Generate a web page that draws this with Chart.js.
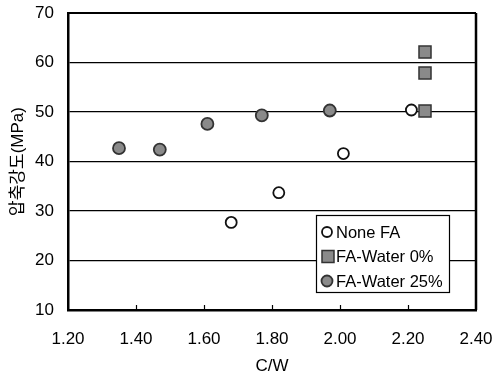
<!DOCTYPE html>
<html>
<head>
<meta charset="utf-8">
<script src="https://cdn.jsdelivr.net/npm/chart.js@4.4.1/dist/chart.umd.min.js"></script>
<style>
  html, body { margin: 0; padding: 0; background: #fff; }
  #wrap { width: 494px; height: 377px; }
</style>
</head>
<body>
<div id="wrap"><canvas id="chart" width="494" height="377"></canvas></div>
<script>
// data
const seriesNames = ['None FA', 'FA-Water 0%', 'FA-Water 25%'];
const cwNone = [1.68, 1.82, 2.01, 2.21];
const strengthNone = [27.7, 33.7, 41.6, 50.4];
const cwWater0 = [2.25, 2.25, 2.25];
const strengthWater0 = [62.1, 57.9, 50.2];
const cwWater25 = [1.35, 1.47, 1.61, 1.77, 1.97];
const strengthWater25 = [42.7, 42.4, 47.6, 49.3, 50.3];
const xTicks = [1.20, 1.40, 1.60, 1.80, 2.00, 2.20, 2.40];
const yTicks = [10, 20, 30, 40, 50, 60, 70];

const toPoints = (xs, ys) => xs.map((x, i) => ({ x: x, y: ys[i] }));
const fontFamily = '"Liberation Sans", Arial, "Noto Sans CJK KR", sans-serif';

// small tick marks inside the bottom border
const innerTicks = {
    id: 'innerTicks',
    afterDraw(chart) {
        const ctx = chart.ctx;
        const xs = chart.scales.x;
        const bottom = chart.chartArea.bottom;
        ctx.save();
        ctx.strokeStyle = '#000';
        ctx.lineWidth = 1.2;
        xTicks.slice(1, -1).forEach(v => {
            const px = Math.round(xs.getPixelForValue(v)) + 0.5;
            ctx.beginPath();
            ctx.moveTo(px, bottom);
            ctx.lineTo(px, bottom - 5);
            ctx.stroke();
        });
        ctx.restore();
    }
};

// legend box drawn inside the plot
const boxLegend = {
    id: 'boxLegend',
    afterDraw(chart) {
        const ctx = chart.ctx;
        const x0 = 316, y0 = 215, w = 133, h = 77;
        ctx.save();
        ctx.fillStyle = '#fff';
        ctx.fillRect(x0, y0, w, h);
        ctx.strokeStyle = '#000';
        ctx.lineWidth = 1.2;
        ctx.strokeRect(x0 + 0.5, y0 + 0.5, w, h);
        ctx.font = '16.5px ' + fontFamily;
        ctx.textBaseline = 'middle';
        chart.data.datasets.forEach((ds, i) => {
            const cy = y0 + 17 + i * 24.5;
            ctx.fillStyle = ds.backgroundColor;
            ctx.strokeStyle = ds.borderColor;
            ctx.lineWidth = ds.borderWidth;
            ctx.beginPath();
            if (ds.pointStyle === 'rect') {
                ctx.rect(x0 + 6, cy - 6, 12, 12);
            } else {
                ctx.arc(x0 + 11, cy, i === 0 ? 5 : 5.5, 0, Math.PI * 2);
            }
            ctx.fill();
            ctx.stroke();
            ctx.fillStyle = '#000';
            ctx.fillText(ds.label, x0 + 20, cy + 1);
        });
        ctx.restore();
    }
};

const ctx = document.getElementById('chart').getContext('2d');
new Chart(ctx, {
    type: 'scatter',
    data: {
        datasets: [
            {
                label: seriesNames[0],
                data: toPoints(cwNone, strengthNone),
                pointStyle: 'circle',
                pointRadius: 5.5,
                backgroundColor: '#fff',
                borderColor: '#111',
                borderWidth: 1.8
            },
            {
                label: seriesNames[1],
                data: toPoints(cwWater0, strengthWater0),
                pointStyle: 'rect',
                pointRadius: 8.5,
                backgroundColor: '#8a8a8a',
                borderColor: '#333',
                borderWidth: 1.5
            },
            {
                label: seriesNames[2],
                data: toPoints(cwWater25, strengthWater25),
                pointStyle: 'circle',
                pointRadius: 6,
                backgroundColor: '#8a8a8a',
                borderColor: '#333',
                borderWidth: 1.8
            }
        ]
    },
    options: {
        responsive: false,
        animation: false,
        layout: { padding: { left: 0, top: 13, right: 18, bottom: 0 } },
        plugins: {
            legend: { display: false },
            tooltip: { enabled: false }
        },
        scales: {
            x: {
                type: 'linear',
                min: 1.2,
                max: 2.4,
                afterBuildTicks: scale => { scale.ticks = xTicks.map(v => ({ value: v })); },
                afterFit: scale => {
                    scale.height = 67;
                    scale.paddingLeft = 0;
                    scale.paddingRight = 0;
                },
                grid: { display: false, drawTicks: false },
                border: { display: true, color: '#000', width: 2.5 },
                ticks: {
                    color: '#000',
                    padding: 19,
                    font: { size: 17, family: fontFamily },
                    callback: v => v.toFixed(2)
                },
                title: {
                    display: true,
                    text: 'C/W',
                    color: '#000',
                    padding: { top: 4, bottom: 0 },
                    font: { size: 17, family: fontFamily }
                }
            },
            y: {
                type: 'linear',
                min: 10,
                max: 70,
                afterBuildTicks: scale => { scale.ticks = yTicks.map(v => ({ value: v })); },
                afterFit: scale => {
                    scale.width = 68;
                    scale.paddingTop = 0;
                    scale.paddingBottom = 0;
                },
                grid: { color: '#000', lineWidth: 1.2, drawTicks: false },
                border: { display: true, color: '#000', width: 2.5 },
                ticks: {
                    color: '#000',
                    padding: 14,
                    font: { size: 17, family: fontFamily }
                },
                title: {
                    display: true,
                    text: '압축강도(MPa)',
                    color: '#000',
                    padding: { top: 8, bottom: 0 },
                    font: { size: 17, family: fontFamily }
                }
            }
        }
    },
    plugins: [
        innerTicks,
        boxLegend,
        {
            id: 'frame',
            afterDraw(chart) {
                const a = chart.chartArea;
                const c = chart.ctx;
                c.save();
                c.strokeStyle = '#000';
                c.lineWidth = 2;
                c.beginPath();
                c.moveTo(a.left, a.top);
                c.lineTo(a.right, a.top);
                c.stroke();
                c.lineWidth = 2.5;
                c.beginPath();
                c.moveTo(a.right, a.top);
                c.lineTo(a.right, a.bottom);
                c.stroke();
                c.restore();
            }
        }
    ]
});
</script>
</body>
</html>
